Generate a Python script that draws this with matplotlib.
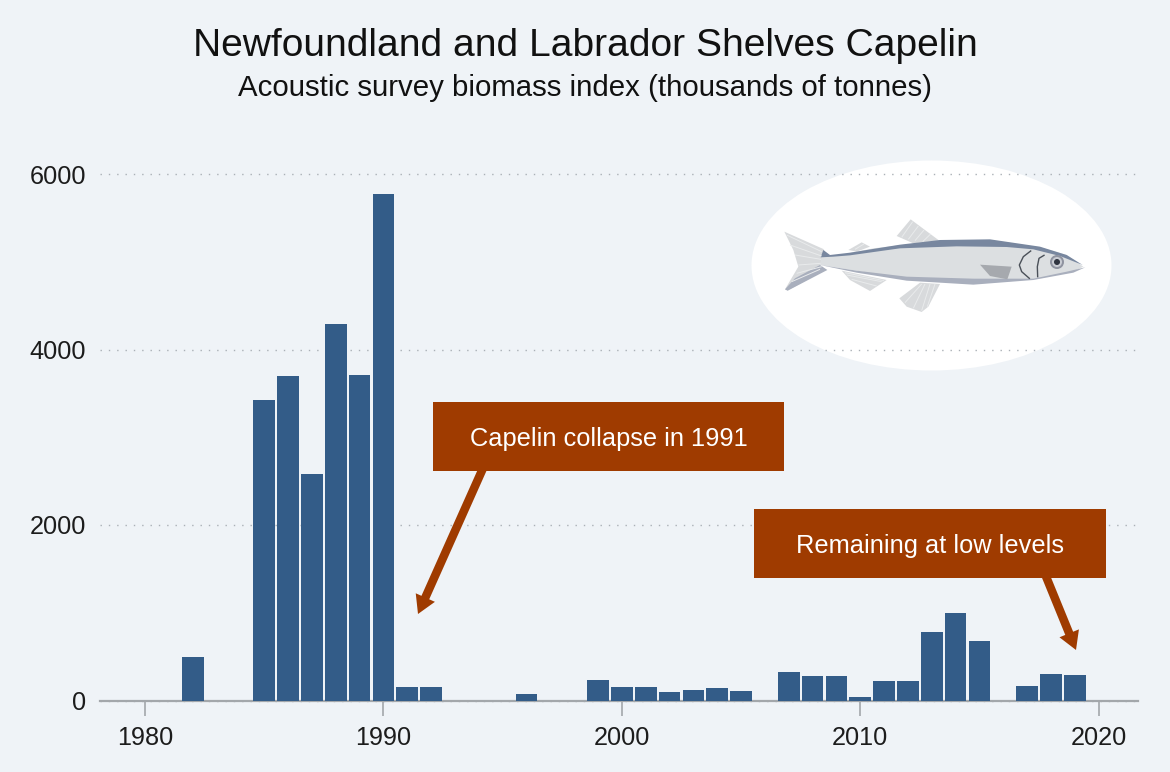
import math

import matplotlib.pyplot as plt
from matplotlib.patches import Ellipse, Polygon, Rectangle

years = [1982, 1985, 1986, 1987, 1988, 1989, 1990, 1991, 1992, 1996, 1999, 2000, 2001, 2002,
         2003, 2004, 2005, 2007, 2008, 2009, 2010, 2011, 2012, 2013, 2014, 2015, 2017, 2018, 2019]
biomass = [497, 3430, 3700, 2580, 4290, 3710, 5770, 150, 150, 70, 230, 150, 150, 100,
           125, 145, 110, 320, 275, 275, 40, 225, 225, 775, 995, 680, 170, 305, 290]
y_ticks = [0, 2000, 4000, 6000]
x_ticks = [1980, 1990, 2000, 2010, 2020]

BG = "#eff3f7"
BAR = "#335c88"
RUST = "#9f3b00"
W, H = 1170, 772

plt.rcParams["font.family"] = ["Liberation Sans", "DejaVu Sans"]

fig = plt.figure(figsize=(W / 100, H / 100), dpi=100, facecolor=BG)


def pixel_axes(zorder):
    a = fig.add_axes([0, 0, 1, 1], zorder=zorder)
    a.set_xlim(0, W)
    a.set_ylim(H, 0)
    a.axis("off")
    return a


def fish_pts(pts):
    return [(740 + x / 3, 150 + y / 3) for x, y in pts]


def draw_fin(a, pts, stripes, color="#d8dadc", stripe="#e9ebec"):
    a.add_patch(Polygon(fish_pts(pts), closed=True, fc=color, ec="none"))
    for p, q in stripes:
        (x0, y0), (x1, y1) = fish_pts([p, q])
        a.plot([x0, x1], [y0, y1], color=stripe, lw=0.7, solid_capstyle="butt")


def draw_arrow(a, tail, tip, shaft=8.5, head_w=21, head_l=18):
    # sharp triangular head, the callout box hides the tail end
    dx, dy = tip[0] - tail[0], tip[1] - tail[1]
    n = math.hypot(dx, dy)
    ux, uy = dx / n, dy / n
    px, py = -uy, ux
    bx, by = tip[0] - ux * head_l, tip[1] - uy * head_l
    pts = [
        (tail[0] + px * shaft / 2, tail[1] + py * shaft / 2),
        (bx + px * shaft / 2, by + py * shaft / 2),
        (bx + px * head_w / 2, by + py * head_w / 2),
        tip,
        (bx - px * head_w / 2, by - py * head_w / 2),
        (bx - px * shaft / 2, by - py * shaft / 2),
        (tail[0] - px * shaft / 2, tail[1] - py * shaft / 2),
    ]
    a.add_patch(Polygon(pts, closed=True, fc=RUST, ec="none", zorder=3))


# background layer: white ellipse and the fish
back = pixel_axes(0)
back.add_patch(Ellipse((931.5, 265.5), 360, 210, fc="white", ec="none"))

draw_fin(back, [(470, 258), (512, 208), (598, 272), (520, 280)],
         [((485, 262), (518, 215)), ((505, 268), (535, 228)), ((525, 272), (552, 240)), ((548, 275), (572, 252))])
draw_fin(back, [(325, 300), (365, 277), (390, 290), (350, 305)], [((345, 298), (372, 282))])
draw_fin(back, [(305, 362), (440, 390), (390, 423), (330, 390)],
         [((320, 375), (425, 395)), ((335, 388), (410, 408)), ((315, 368), (432, 392))])
draw_fin(back, [(540, 398), (600, 402), (565, 470), (545, 486), (500, 470), (478, 445)],
         [((545, 402), (495, 458)), ((555, 402), (520, 475)), ((570, 402), (545, 482)), ((585, 402), (562, 470))])
# tail
draw_fin(back, [(133, 245), (250, 297), (262, 320), (240, 345), (250, 362), (143, 422), (135, 418),
                (175, 350), (160, 300)],
         [((140, 255), (245, 305)), ((150, 285), (245, 318)), ((165, 315), (243, 328)), ((175, 345), (242, 340)),
          ((170, 370), (245, 350)), ((155, 395), (240, 358))])
back.add_patch(Polygon(fish_pts([(240, 345), (262, 360), (143, 422), (135, 418), (165, 385)]),
                       closed=True, fc="#a9afbd", ec="none"))

# body, back stripe, belly
back.add_patch(Polygon(fish_pts([(245, 320), (300, 315), (400, 295), (600, 272), (750, 270), (900, 292),
                                 (980, 315), (1030, 350), (1000, 365), (880, 388), (700, 402), (500, 388),
                                 (350, 362), (240, 345)]), closed=True, fc="#dcdfe1", ec="none"))
back.add_patch(Polygon(fish_pts([(242, 322), (250, 300), (270, 315), (330, 308), (480, 284), (600, 270), (750, 268),
                                 (900, 290), (980, 315), (1028, 345), (960, 318), (880, 298), (800, 291),
                                 (650, 289), (480, 295), (330, 316), (280, 320)]),
                       closed=True, fc="#78879f", ec="none"))
back.add_patch(Polygon(fish_pts([(240, 345), (350, 362), (500, 380), (700, 386), (880, 386), (980, 365),
                                 (1036, 352), (1000, 368), (880, 390), (700, 404), (500, 392), (350, 368)]),
                       closed=True, fc="#a9afbd", ec="none"))
# pectoral fin
back.add_patch(Polygon(fish_pts([(720, 344), (815, 350), (802, 388), (750, 378)]),
                       closed=True, fc="#a6a9ae", ec="none"))
# gill lines
back.plot(*zip(*fish_pts([(872, 303), (850, 320), (838, 345), (845, 365), (868, 385)])), color="#4a5058", lw=1)
back.plot(*zip(*fish_pts([(912, 316), (897, 325), (892, 350), (893, 380)])), color="#4a5058", lw=1)
# eye
for r, c in [(21, "#8f93a0"), (15, "#c9ccd3"), (9, "#2f3440")]:
    back.add_patch(Ellipse(fish_pts([(951, 336)])[0], r * 2 / 3, r * 2 / 3, fc=c, ec="none"))

# chart
left, right, top, bottom = 100, 1138, 174, 700.5
ax = fig.add_axes([left / W, 1 - bottom / H, (right - left) / W, (bottom - top) / H], zorder=1)
ax.patch.set_alpha(0)
ax.bar(years, biomass, width=0.91, color=BAR, zorder=3)
ax.set_xlim(1978.11, 2021.65)
ax.set_ylim(0, 6000)
ax.set_xticks(x_ticks)
ax.set_yticks(y_ticks)
ax.tick_params(axis="x", length=11, width=1.2, color="#a3a7ab", labelsize=18.2, labelcolor="#1c1c1c", pad=7.5)
ax.tick_params(axis="y", length=0, labelsize=18.2, labelcolor="#1c1c1c", pad=10)
ax.yaxis.grid(True, color="#aab0b6", lw=1, linestyle=(0, (1, 5)), zorder=1)
for line in ax.get_ygridlines():
    line.set_clip_on(False)
for side in ["top", "left", "right"]:
    ax.spines[side].set_visible(False)
ax.spines["bottom"].set_color("#a3a7ab")
ax.spines["bottom"].set_linewidth(1.6)

# callouts
front = pixel_axes(2)
for (x0, y0, x1, y1), label, tail, tip in [
    ((433, 402, 784, 471), "Capelin collapse in 1991", (484, 466), (418, 614)),
    ((754, 509, 1106, 578), "Remaining at low levels", (1045, 574), (1076, 650)),
]:
    draw_arrow(front, tail, tip)
    front.add_patch(Rectangle((x0, y0), x1 - x0, y1 - y0, fc=RUST, ec="none", zorder=4))
    front.text((x0 + x1) / 2 + 0.5, (y0 + y1) / 2 + 2.5, label, color="white", fontsize=18.3,
               ha="center", va="center", zorder=5)

front.text(585, 45.5, "Newfoundland and Labrador Shelves Capelin", fontsize=28.1, color="#111111",
           ha="center", va="center")
front.text(585.5, 88, "Acoustic survey biomass index (thousands of tonnes)", fontsize=21.2, color="#111111",
           ha="center", va="center")

fig.savefig("out.png", dpi=100, facecolor=BG)
